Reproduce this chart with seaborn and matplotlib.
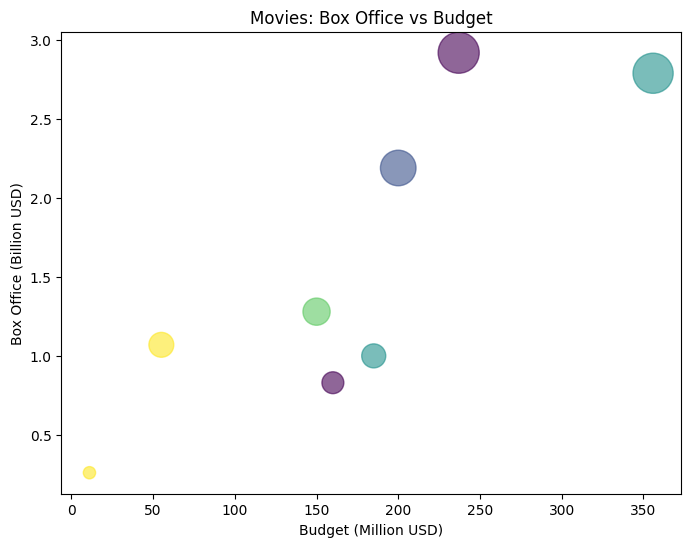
import matplotlib
matplotlib.use("Agg")
import matplotlib.pyplot as plt
import seaborn as sns
import pandas as pd

budget = [237, 356, 200, 150, 55, 185, 160, 11]
box_office = [2.92, 2.79, 2.19, 1.28, 1.07, 1.00, 0.83, 0.26]
group = [0, 2, 1, 3, 4, 2, 0, 4]

df = pd.DataFrame({"budget": budget, "box": box_office, "group": group})

SCALE = 300
lo, hi = min(box_office), max(box_office)

fig, ax = plt.subplots(figsize=(8, 6), dpi=100)
sns.scatterplot(data=df, x="budget", y="box", hue="group", palette="viridis",
                hue_norm=(0, 4), size="box", sizes=(lo * SCALE, hi * SCALE),
                size_norm=(lo, hi), alpha=0.6, edgecolor="face", linewidth=1.0,
                legend=False, ax=ax)
ax.set_title("Movies: Box Office vs Budget")
ax.set_xlabel("Budget (Million USD)")
ax.set_ylabel("Box Office (Billion USD)")
fig.savefig("out.png", dpi=100, bbox_inches="tight")
